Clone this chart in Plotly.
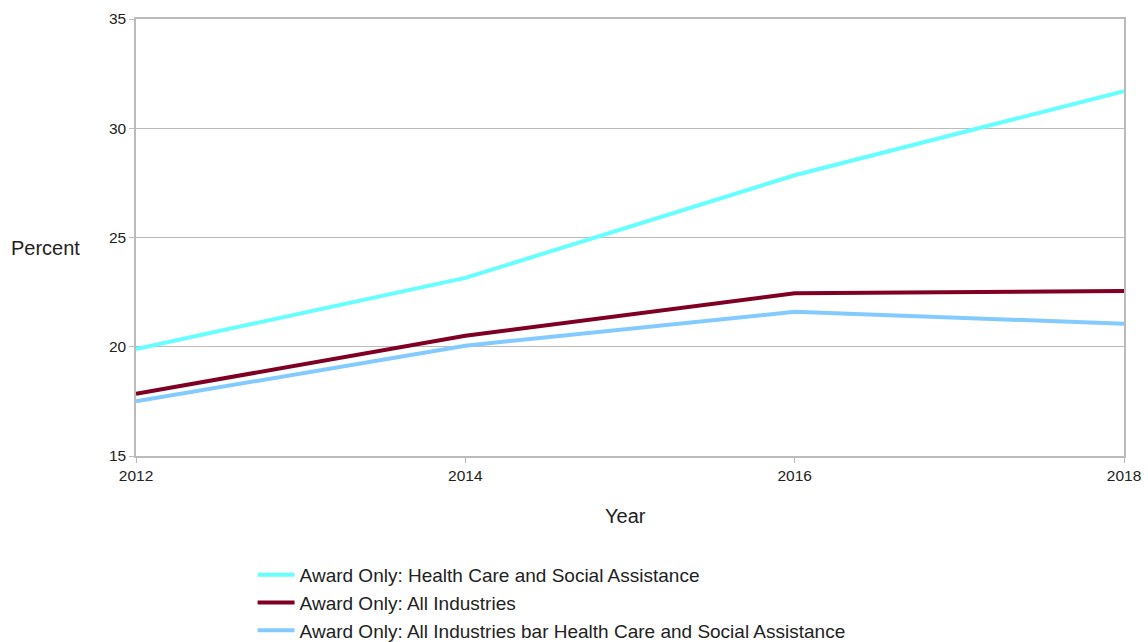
import plotly.graph_objects as go

years = [2012, 2014, 2016, 2018]
health_care = [19.9, 23.15, 27.85, 31.7]
all_industries = [17.85, 20.5, 22.45, 22.55]
all_bar_health = [17.5, 20.05, 21.6, 21.05]

series_names = [
    "Award Only: Health Care and Social Assistance",
    "Award Only: All Industries",
    "Award Only: All Industries bar Health Care and Social Assistance",
]
series_colors = ["#66ffff", "#7f0022", "#83caff"]

fig = go.Figure()
for name, values, color in zip(series_names, [health_care, all_industries, all_bar_health], series_colors):
    fig.add_trace(go.Scatter(
        x=years, y=values, name=name, mode="lines",
        line=dict(color=color, width=4),
    ))

axis_font = dict(family="Liberation Sans, Arial, sans-serif", size=15.5, color="#222222")

fig.update_layout(
    width=1148, height=642,
    margin=dict(l=136, r=24, t=19, b=186, autoexpand=False),
    paper_bgcolor="white", plot_bgcolor="white",
    font=dict(family="Liberation Sans, Arial, sans-serif", color="#222222"),
    xaxis=dict(
        range=[2012, 2018], tickvals=[2012, 2014, 2016, 2018],
        ticks="outside", ticklen=5, tickcolor="#bbbbbb",
        showgrid=False, showline=True, linecolor="#bbbbbb", linewidth=1.5, mirror=True,
        tickfont=axis_font, zeroline=False, automargin=False,
    ),
    yaxis=dict(
        range=[15, 35], tickvals=[15, 20, 25, 30, 35],
        ticks="outside", ticklen=5, tickcolor="#bbbbbb",
        showgrid=True, gridcolor="#bbbbbb", gridwidth=1,
        showline=True, linecolor="#bbbbbb", linewidth=1.5, mirror=True,
        tickfont=axis_font, zeroline=False, automargin=False,
    ),
    legend=dict(
        x=0.118, y=0.134, xref="paper", yref="container",
        xanchor="left", yanchor="top", itemwidth=37,
        font=dict(size=19), bgcolor="rgba(0,0,0,0)",
    ),
    annotations=[
        dict(
            text="Percent", xref="paper", yref="paper", x=-0.092, y=0.476,
            xanchor="center", yanchor="middle", showarrow=False,
            font=dict(size=20),
        ),
        dict(
            text="Year", xref="paper", yref="paper", x=0.495, y=-0.137,
            xanchor="center", yanchor="middle", showarrow=False,
            font=dict(size=20),
        ),
    ],
)

fig.write_html("out.html")
